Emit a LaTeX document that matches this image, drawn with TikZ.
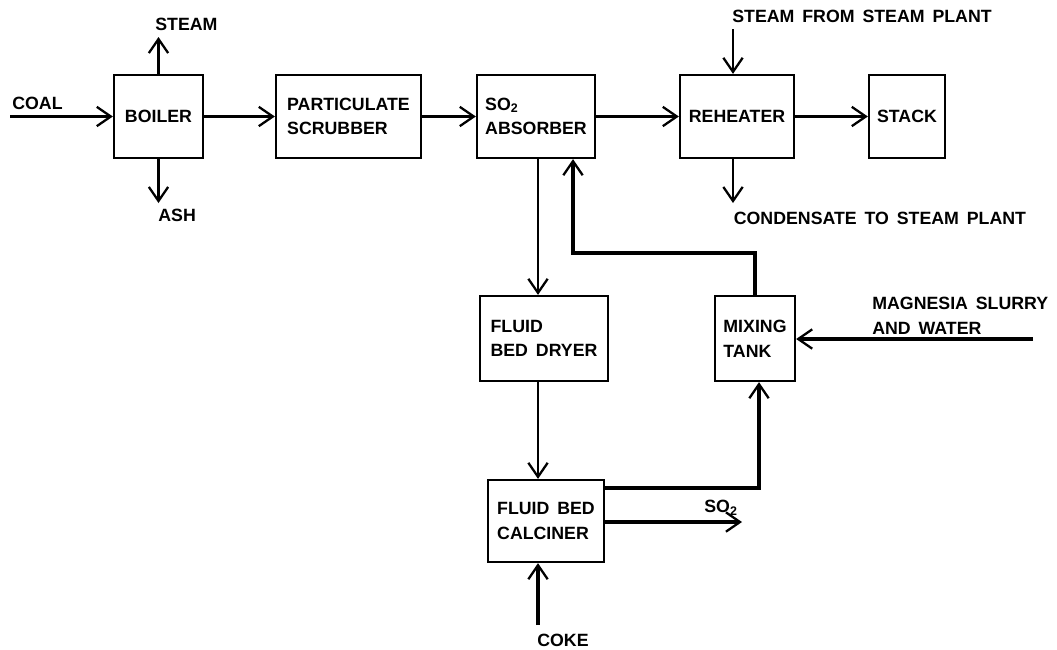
\documentclass[tikz,border=0pt]{standalone}
\usepackage{fontspec}
\setmainfont{Liberation Sans}[WordSpace=1.6]
\usetikzlibrary{arrows.meta,calc}
\newcommand{\lbl}{\bfseries\fontsize{10.1}{14}\selectfont}

\begin{document}
\begin{tikzpicture}[
  box/.style={draw,line width=1.3pt,minimum height=1.66cm,align=left,inner sep=0pt,font=\lbl},
  tag/.style={anchor=west,inner sep=0pt,align=left,font=\lbl},
  flow/.style={-{Straight Barb[length=8pt,width=11pt,line width=1.3pt]},line width=2pt},
  arrow/.style={-{Straight Barb[length=8pt,width=11pt,line width=1.3pt]},line width=1.6pt}
]
\useasboundingbox (0,0) rectangle (21.14,-12.98);
% main gas train
\node[box,minimum width=1.78cm] (boiler) at (3.17,-2.33) {BOILER};
\node[box,minimum width=2.90cm] (scrub) at (6.97,-2.33) {PARTICULATE\\SCRUBBER};
\node[box,minimum width=2.36cm] (absorb) at (10.72,-2.33) {SO\textsubscript{2}\\ABSORBER};
\node[box,minimum width=2.28cm] (reheat) at (14.74,-2.33) {REHEATER};
\node[box,minimum width=1.52cm] (stack) at (18.14,-2.33) {STACK};
% regeneration loop
\node[box,minimum width=2.56cm,minimum height=1.70cm] (dryer) at (10.88,-6.77) {FLUID\\BED DRYER};
\node[box,minimum width=1.60cm,minimum height=1.70cm] (mix) at (15.10,-6.77) {MIXING\\TANK};
\node[box,minimum width=2.32cm,minimum height=1.64cm] (calc) at (10.92,-10.42) {FLUID BED\\CALCINER};

\coordinate (coal) at (0.2,-2.33);
\coordinate (steam) at (3.17,-0.74);
\coordinate (ash) at (3.17,-4.06);
\coordinate (sfp) at (14.66,-0.58);
\coordinate (cond) at (14.66,-4.06);
\coordinate (dn) at (10.76,0);
\coordinate (ret) at (11.46,-5.06);
\coordinate (mag) at (20.66,-6.78);
\coordinate (up) at (15.18,-9.76);
\coordinate (so) at (14.84,-10.44);
\coordinate (coke) at (10.76,-12.5);

\node[tag] (coaltxt) at (0.24,-2.06) {COAL};
\node[tag] (steamtxt) at (3.10,-0.48) {STEAM};
\node[tag] (ashtxt) at (3.16,-4.30) {ASH};
\node[tag] (sfptxt) at (14.64,-0.32) {STEAM FROM STEAM PLANT};
\node[tag] (condtxt) at (14.67,-4.36) {CONDENSATE TO STEAM PLANT};
\node[tag] (magtxt) at (17.44,-6.31) {MAGNESIA SLURRY\\AND WATER};
\node[tag] (sotxt) at (14.08,-10.16) {SO\textsubscript{2}};
\node[tag] (coketxt) at (10.74,-12.80) {COKE};

\draw[flow] (coal) -- (boiler);
\draw[flow] (boiler) -- (scrub);
\draw[flow] (scrub) -- (absorb);
\draw[flow] (absorb) -- (reheat);
\draw[flow] (reheat) -- (stack);
\draw[arrow] (boiler) -- (steam);
\draw[arrow] (boiler) -- (ash);
\draw[arrow] (sfp) -- (sfp |- reheat.north);
\draw[arrow] (cond |- reheat.south) -- (cond);
\draw[arrow] (dn |- absorb.south) -- (dn |- dryer.north);
\draw[arrow] (dn |- dryer.south) -- (dn |- calc.north);
\draw[arrow,line width=1.8pt] (mix.north) |- (ret) -- (ret |- absorb.south);
\draw[flow] (mag) -- (mix.east |- mag);
\draw[flow] (calc.east |- up) -- (up) -- (up |- mix.south);
\draw[flow] (calc.east |- so) -- (so);
\draw[arrow,line width=1.8pt] (coke) -- (dn |- calc.south);
\end{tikzpicture}
\end{document}
